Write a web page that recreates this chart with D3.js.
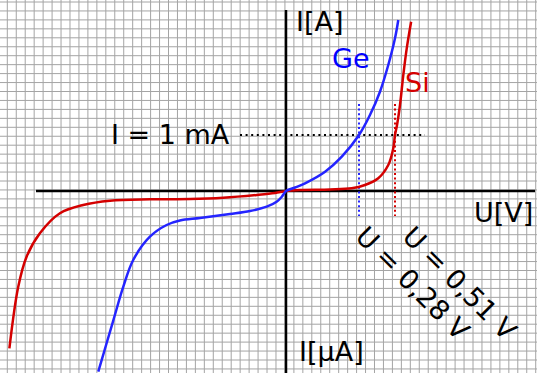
<!DOCTYPE html>
<html>
<head>
<meta charset="utf-8">
<script src="https://cdn.jsdelivr.net/npm/d3@7"></script>
<style>
  html, body { margin: 0; padding: 0; background: #fff; }
  svg { display: block; }
  text { font-family: "DejaVu Sans", Verdana, sans-serif; }
</style>
</head>
<body>
<script>
// Diode characteristics: forward branch in mA, reverse branch schematic (µA).
const geU = [-0.720, -0.662, -0.624, -0.586, -0.522, -0.458, -0.407, -0.330, -0.215, -0.138, -0.074, -0.036, -0.016, -0.006, 0, 0.035, 0.073, 0.150, 0.214, 0.280, 0.350, 0.414, 0.467, 0.510, 0.531];
const geI = [-3.227, -2.304, -1.709, -1.232, -0.816, -0.607, -0.527, -0.482, -0.411, -0.357, -0.280, -0.191, -0.102, -0.036, 0, 0.063, 0.138, 0.345, 0.613, 1.000, 1.357, 1.773, 2.250, 2.727, 3.054];

const siU = [-1.061, -1.027, -0.995, -0.944, -0.867, -0.778, -0.675, -0.522, -0.368, -0.241, -0.112, -0.042, 0, 0.054, 0.169, 0.252, 0.318, 0.403, 0.467, 0.499, 0.510, 0.523, 0.542, 0.563, 0.585, 0.613];
const siI = [-2.809, -1.709, -1.173, -0.755, -0.398, -0.250, -0.173, -0.148, -0.143, -0.120, -0.071, -0.036, 0, 0.018, 0.027, 0.048, 0.107, 0.227, 0.464, 0.763, 1.000, 1.179, 1.536, 2.071, 2.548, 3.023];

// Threshold voltages marked on the U axis, and the reference current
const thresholdU = [0.28, 0.51];
const thresholdLabels = ["U = 0,28 V", "U = 0,51 V"];
const refI = 1;
const refLabel = "I = 1 mA";

const W = 537, H = 373;
const blue = "#2424ff", red = "#d40000";

const svg = d3.select("body").append("svg").attr("width", W).attr("height", H);
svg.append("rect").attr("width", W).attr("height", H).attr("fill", "#fff");

// Voltage axis is not to scale: piecewise so each marked threshold sits at its spot
const x = d3.scaleLinear().domain([0, thresholdU[0], thresholdU[1]]).range([286, 359, 395]);
const y = d3.scaleLinear().domain([0, refI]).range([191, 135]);

// Graph-paper background
const gx0 = 7.3, gdx = 8.956, gy0 = 2, gdy = 8.95;
const grid = svg.append("g").attr("stroke", "#a4a4a4").attr("stroke-width", 1);
grid.selectAll("line.v").data(d3.range(gx0, W, gdx)).join("line").attr("class", "v")
  .attr("x1", d => d).attr("x2", d => d).attr("y1", 0).attr("y2", H);
grid.selectAll("line.h").data(d3.range(gy0, H, gdy)).join("line").attr("class", "h")
  .attr("y1", d => d).attr("y2", d => d).attr("x1", 0).attr("x2", W);

// Axes through the origin
svg.append("line").attr("x1", 36).attr("x2", 535).attr("y1", y(0)).attr("y2", y(0))
  .attr("stroke", "#000").attr("stroke-width", 2.5);
svg.append("line").attr("x1", x(0)).attr("x2", x(0)).attr("y1", 10).attr("y2", H)
  .attr("stroke", "#000").attr("stroke-width", 2.5);

// Reference current dotted line
svg.append("line").attr("x1", 240).attr("x2", 425).attr("y1", y(refI)).attr("y2", y(refI))
  .attr("stroke", "#000").attr("stroke-width", 2).attr("stroke-dasharray", "2,3.6");

// Threshold voltage dotted lines
const thrColors = [blue, red];
svg.selectAll("line.thr").data(thresholdU).join("line").attr("class", "thr")
  .attr("x1", d => x(d)).attr("x2", d => x(d)).attr("y1", 104).attr("y2", 216)
  .attr("stroke", (d, i) => thrColors[i]).attr("stroke-width", 2).attr("stroke-dasharray", "2,2.6");

// Characteristic curves
const line = d3.line().x(d => x(d[0])).y(d => y(d[1])).curve(d3.curveCatmullRom.alpha(0.5));
svg.append("path").datum(d3.zip(siU, siI)).attr("d", line)
  .attr("fill", "none").attr("stroke", red).attr("stroke-width", 2.5);
svg.append("path").datum(d3.zip(geU, geI)).attr("d", line)
  .attr("fill", "none").attr("stroke", blue).attr("stroke-width", 2.5);

// Labels
const fs = 27;
function label(t, px, py, fill) {
  return svg.append("text").attr("x", px).attr("y", py).attr("font-size", fs)
    .attr("fill", fill || "#000").text(t);
}
label("I[A]", 296, 31);
label("U[V]", 474, 222);
label("I[μA]", 299, 361);
label(refLabel, 111, 144);
label("Ge", 332, 68, "#0000ff");
label("Si", 405, 92, red);

const rot = [[354, 238], [401, 238]];
svg.selectAll("text.thr").data(thresholdLabels).join("text").attr("class", "thr")
  .attr("font-size", fs).attr("fill", "#000")
  .attr("transform", (d, i) => `translate(${rot[i][0]},${rot[i][1]}) rotate(45)`)
  .text(d => d);
</script>
</body>
</html>
